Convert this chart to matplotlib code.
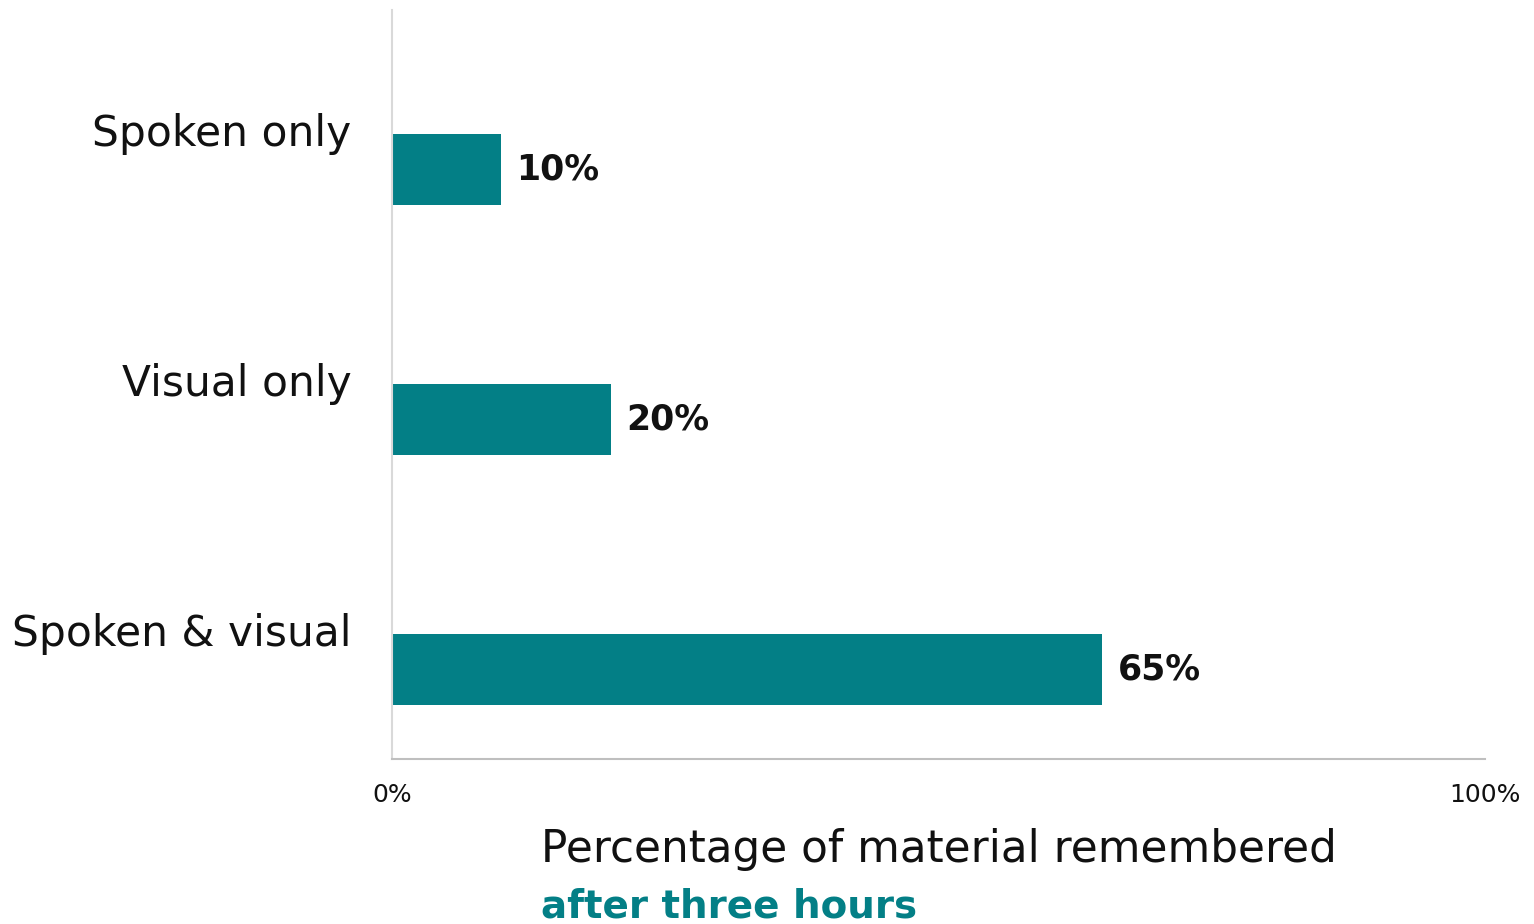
import matplotlib.pyplot as plt

categories = ["Spoken only", "Visual only", "Spoken & visual"]
remembered = [10, 20, 65]
tick_values = [0, 100]
tick_labels = ["0%", "100%"]

TEAL = "#037f86"
plt.rcParams["font.family"] = ["DejaVu Sans"]

W, H = 1534, 924
fig = plt.figure(figsize=(W / 100, H / 100), dpi=100)
ax = fig.add_axes([392 / W, (H - 759) / H, (1485 - 392) / W, (759 - 10) / H])

# bars sit a bit below the centre of each category band, names a bit above
bar_offset = 0.14
label_offset = -0.02
positions = list(range(len(categories)))
ax.barh([p + bar_offset for p in positions], remembered, height=0.284, color=TEAL)
for p, v in zip(positions, remembered):
    ax.text(v + 1.4, p + bar_offset, f"{v}%", va="center", ha="left",
            fontsize=25, fontweight="bold", color="#111111")

ax.set_xlim(0, 100)
ax.set_ylim(len(categories) - 0.5, -0.5)
ax.set_yticks([p + label_offset for p in positions])
ax.set_yticklabels(categories, fontsize=30.5, color="#111111")
ax.set_xticks(tick_values)
ax.set_xticklabels(tick_labels, fontsize=18, color="#111111")
ax.tick_params(axis="y", length=0, pad=29)
ax.tick_params(axis="x", length=0, pad=17)

for side in ("top", "right"):
    ax.spines[side].set_visible(False)
ax.spines["left"].set_color("#d9d9d9")
ax.spines["left"].set_linewidth(1.5)
ax.spines["bottom"].set_color("#bfbfbf")
ax.spines["bottom"].set_linewidth(1.5)

fig.text(541 / W, 1 - 862 / H, "Percentage of material remembered",
         fontsize=31.5, color="#111111", ha="left", va="baseline")
fig.text(541 / W, 1 - 918 / H, "after three hours",
         fontsize=28, fontweight="bold", color=TEAL, ha="left", va="baseline")

fig.savefig("out.png", dpi=100, facecolor="white")
